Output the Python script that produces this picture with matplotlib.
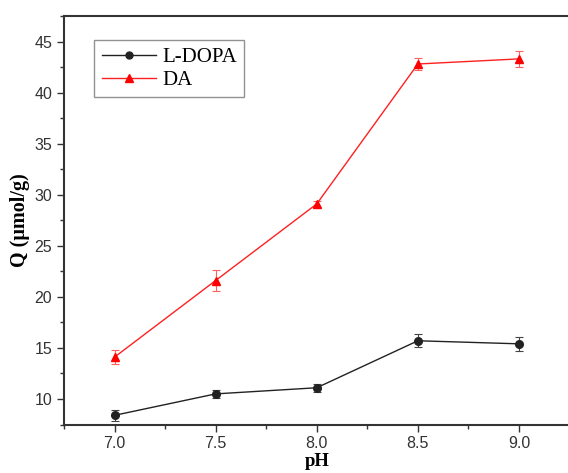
import matplotlib.pyplot as plt
from matplotlib.lines import Line2D
from matplotlib.ticker import MultipleLocator

# data
ph = [7.0, 7.5, 8.0, 8.5, 9.0]
ldopa = [8.4, 10.5, 11.1, 15.7, 15.4]
ldopa_err = [0.55, 0.4, 0.4, 0.65, 0.7]
da = [14.1, 21.6, 29.1, 42.8, 43.3]
da_err = [0.65, 1.0, 0.3, 0.55, 0.75]

fig = plt.figure(figsize=(5.68, 4.73), dpi=100)
ax = fig.add_axes([0.1127, 0.1025, 0.8900, 0.8637])

ax.errorbar(ph, ldopa, yerr=ldopa_err, color="#222222", lw=1.0, marker="o",
            ms=5.5, capsize=3, elinewidth=0.8, capthick=0.8,
            ecolor="#444444")
ax.errorbar(ph, da, yerr=da_err, color="#ff2020", lw=1.0, marker="^",
            ms=6, mfc="red", mec="red", capsize=3, elinewidth=0.8,
            capthick=0.8, ecolor="#ff6060")

ax.set_xlim(6.75, 9.25)
ax.set_ylim(7.5, 47.5)
ax.xaxis.set_minor_locator(MultipleLocator(0.25))
ax.yaxis.set_minor_locator(MultipleLocator(2.5))
ax.set_xticks(ph)
ax.set_xticklabels(["7.0", "7.5", "8.0", "8.5", "9.0"])
ax.set_yticks([10, 15, 20, 25, 30, 35, 40, 45])

ax.tick_params(which="both", direction="out", colors="#333333",
               labelsize=11.5, width=1)
ax.tick_params(which="major", length=5)
ax.tick_params(which="minor", length=3)
for lab in ax.get_xticklabels() + ax.get_yticklabels():
    lab.set_fontfamily("Liberation Sans")

for side in ["left", "bottom", "top"]:
    ax.spines[side].set_color("#333333")
    ax.spines[side].set_linewidth(1.5)
ax.spines["right"].set_visible(False)

ax.set_xlabel("pH", fontfamily="Liberation Serif", fontweight="bold",
              fontsize=13.5, labelpad=1)
ax.set_ylabel("Q (\u03bcmol/g)", fontfamily="Liberation Serif",
              fontweight="bold", fontsize=14.5, labelpad=3)

handles = [
    Line2D([], [], color="#222222", lw=1.0, marker="o", ms=5),
    Line2D([], [], color="#ff2020", lw=1.0, marker="^", ms=5.5,
           mfc="red", mec="red"),
]
leg = ax.legend(handles, ["L-DOPA", "DA"], loc="upper left",
                bbox_to_anchor=(0.06, 0.94),
                prop={"family": "Liberation Serif", "size": 15},
                fancybox=False, frameon=True, handlelength=2.6,
                borderpad=0.35, labelspacing=0.15, handletextpad=0.3,
                borderaxespad=0)
leg.get_frame().set_edgecolor("#777777")
leg.get_frame().set_linewidth(1.0)

fig.savefig("out.png", dpi=100)
